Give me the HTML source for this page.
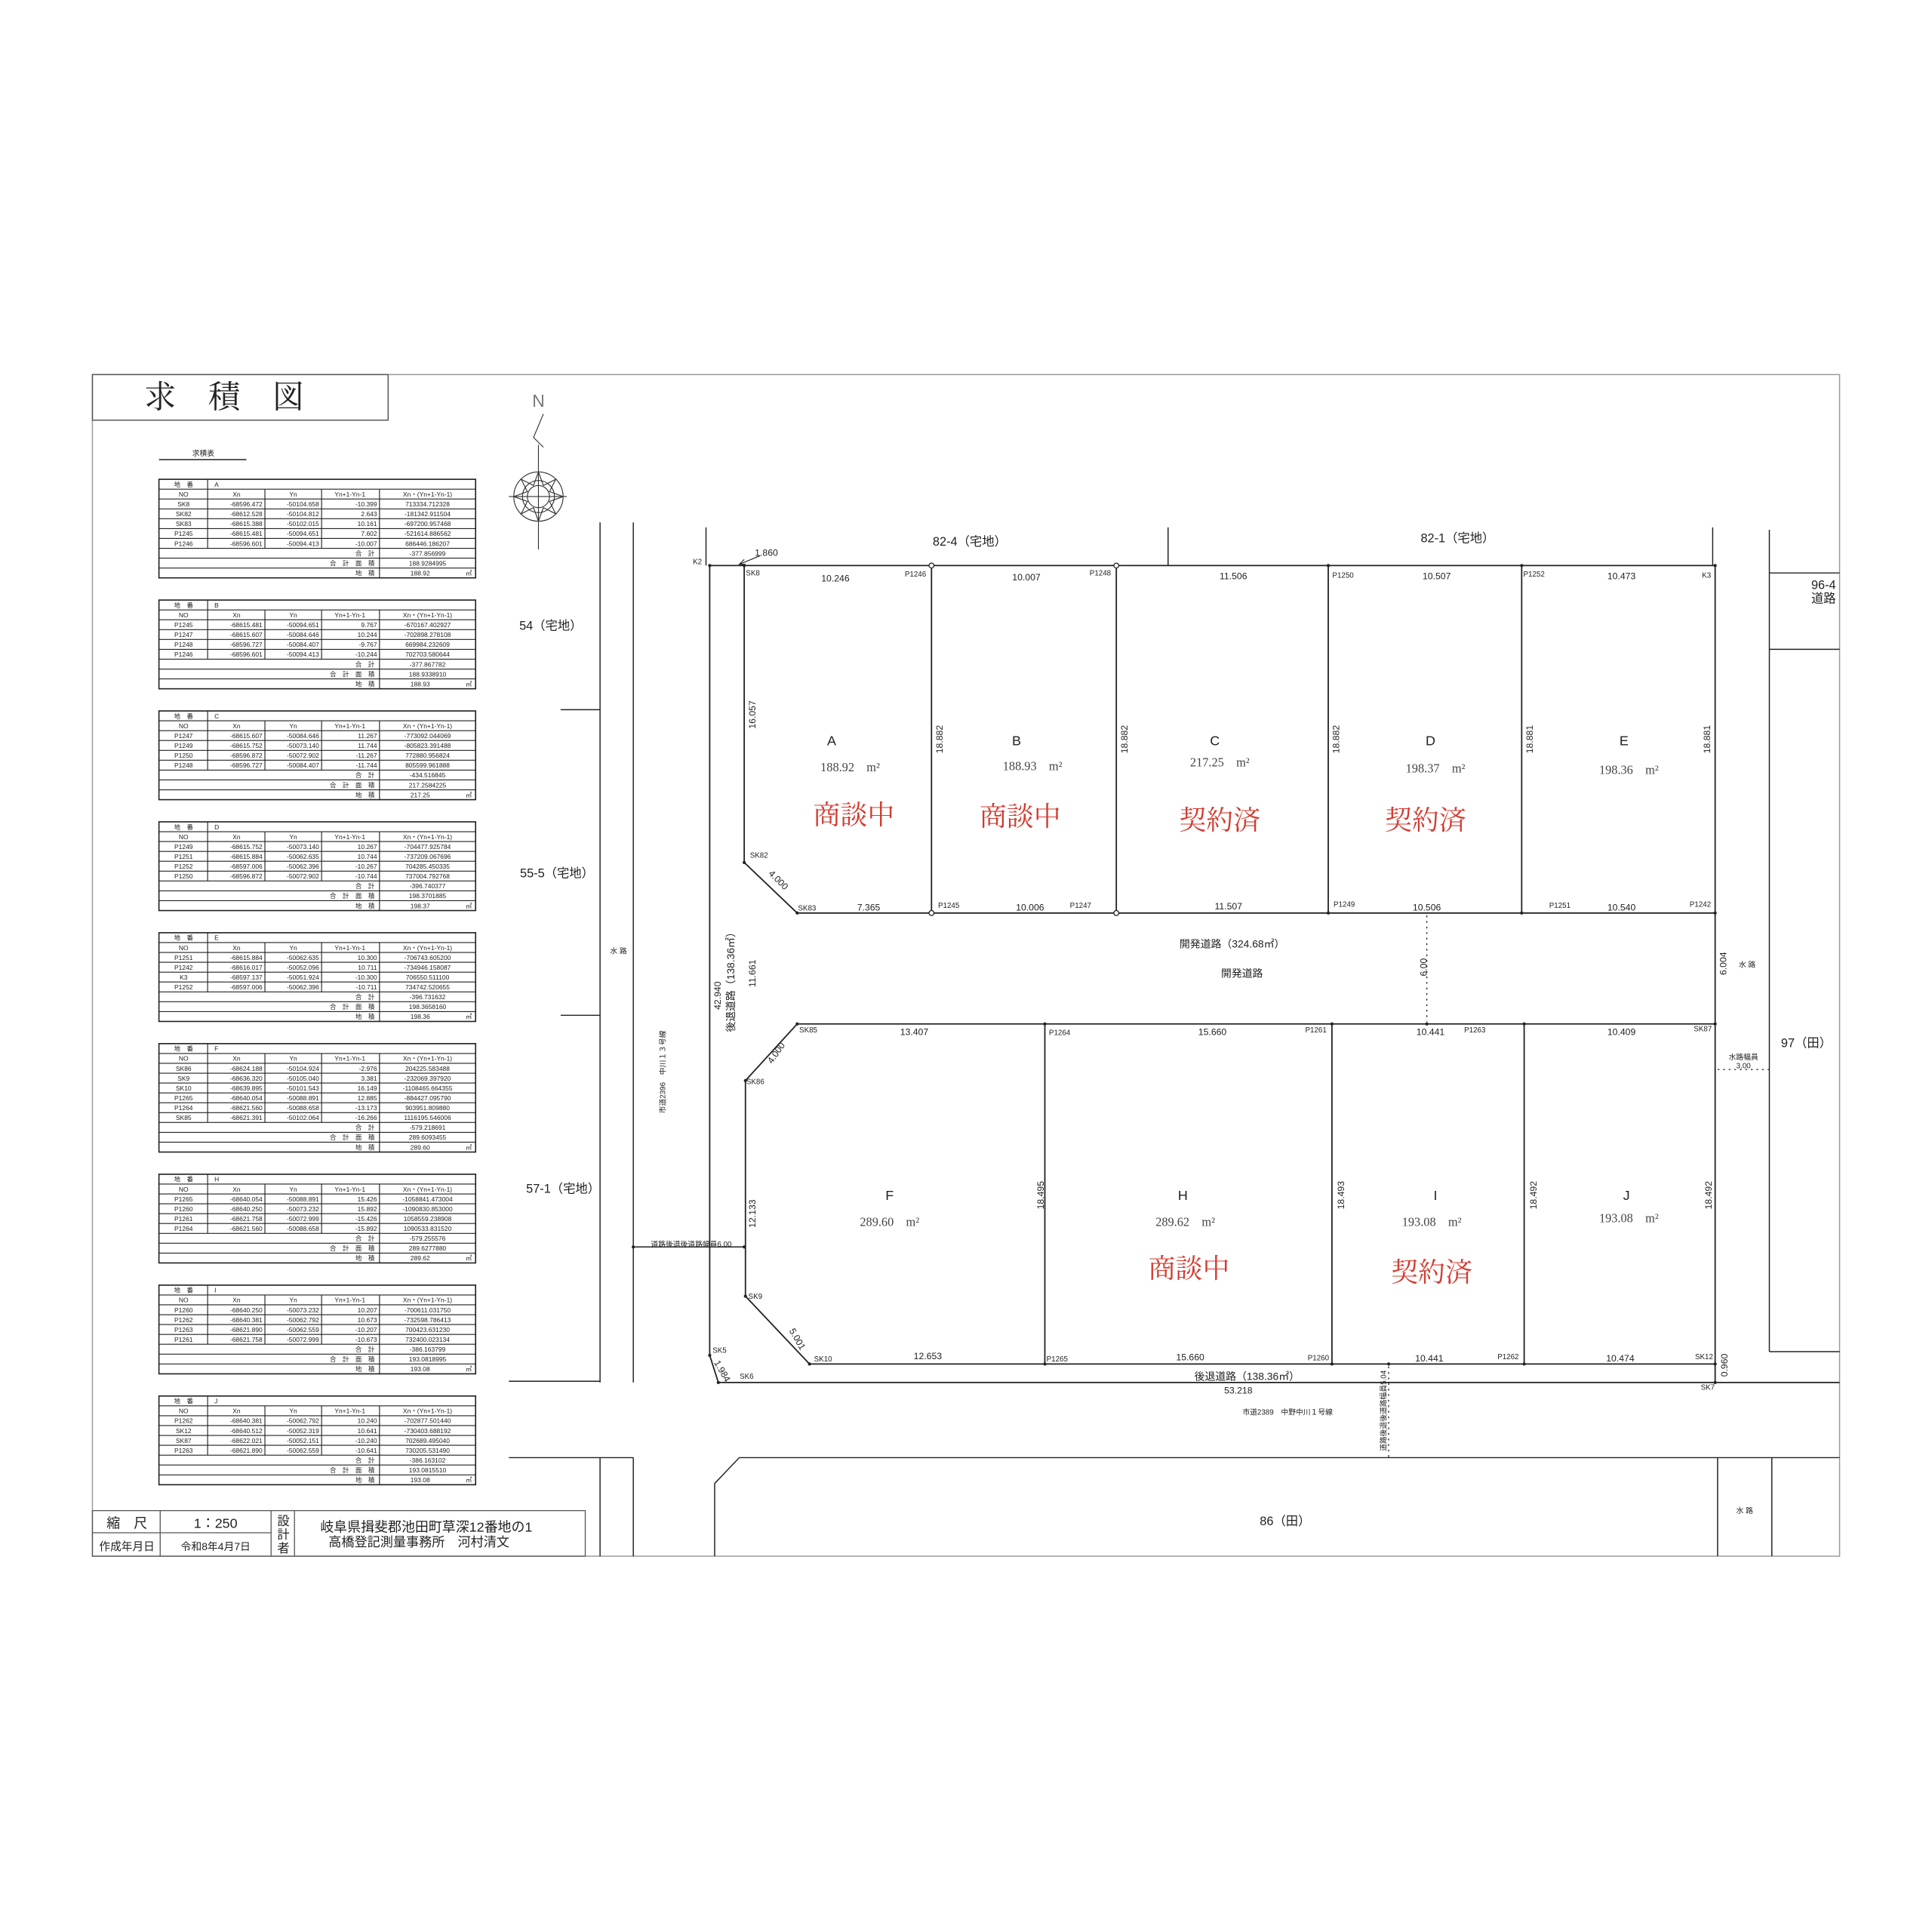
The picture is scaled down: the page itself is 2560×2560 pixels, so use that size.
<!DOCTYPE html>
<html><head><meta charset="utf-8"><style>
html,body{margin:0;padding:0;background:#fff;overflow:hidden;}
svg{display:block;}
text{font-family:"Liberation Sans","Noto Sans CJK JP",sans-serif;fill:#222;}
.s{font-family:"Liberation Serif","Noto Serif CJK SC",serif;}
.t{font-size:5.2px;}
.r{text-anchor:end;}
.c{text-anchor:middle;}
.m{font-size:7.5px;text-anchor:middle;}
.p{font-size:6px;text-anchor:middle;}
.red{fill:#d23b30;font-size:22px;text-anchor:middle;font-family:"Liberation Serif","Noto Serif CJK JP",serif;}
.L{font-size:11px;text-anchor:middle;}
.A{font-size:10px;text-anchor:middle;font-family:"Liberation Serif",serif;fill:#444;}
</style></head><body>
<svg width="2560" height="2560" viewBox="0 0 1568 1568" xmlns="http://www.w3.org/2000/svg">
<defs>
<g id="g4" stroke="#222" stroke-width="0.7" fill="none">
<rect x="0" y="0" width="257" height="72" stroke-width="1"/>
<line x1="0" y1="8" x2="257" y2="8"/><line x1="0" y1="16" x2="257" y2="16"/><line x1="0" y1="24" x2="257" y2="24"/><line x1="0" y1="32" x2="257" y2="32"/><line x1="0" y1="40" x2="257" y2="40"/><line x1="0" y1="48" x2="257" y2="48"/><line x1="0" y1="56" x2="257" y2="56"/><line x1="0" y1="64" x2="257" y2="64"/>
<line x1="39.5" y1="0" x2="39.5" y2="48"/><line x1="86" y1="8" x2="86" y2="48"/><line x1="132" y1="8" x2="132" y2="48"/><line x1="179" y1="8" x2="179" y2="72"/>
</g>
<g id="g5" stroke="#222" stroke-width="0.7" fill="none">
<rect x="0" y="0" width="257" height="80" stroke-width="1"/>
<line x1="0" y1="8" x2="257" y2="8"/><line x1="0" y1="16" x2="257" y2="16"/><line x1="0" y1="24" x2="257" y2="24"/><line x1="0" y1="32" x2="257" y2="32"/><line x1="0" y1="40" x2="257" y2="40"/><line x1="0" y1="48" x2="257" y2="48"/><line x1="0" y1="56" x2="257" y2="56"/><line x1="0" y1="64" x2="257" y2="64"/><line x1="0" y1="72" x2="257" y2="72"/>
<line x1="39.5" y1="0" x2="39.5" y2="56"/><line x1="86" y1="8" x2="86" y2="56"/><line x1="132" y1="8" x2="132" y2="56"/><line x1="179" y1="8" x2="179" y2="80"/>
</g>
<g id="g6" stroke="#222" stroke-width="0.7" fill="none">
<rect x="0" y="0" width="257" height="88" stroke-width="1"/>
<line x1="0" y1="8" x2="257" y2="8"/><line x1="0" y1="16" x2="257" y2="16"/><line x1="0" y1="24" x2="257" y2="24"/><line x1="0" y1="32" x2="257" y2="32"/><line x1="0" y1="40" x2="257" y2="40"/><line x1="0" y1="48" x2="257" y2="48"/><line x1="0" y1="56" x2="257" y2="56"/><line x1="0" y1="64" x2="257" y2="64"/><line x1="0" y1="72" x2="257" y2="72"/><line x1="0" y1="80" x2="257" y2="80"/>
<line x1="39.5" y1="0" x2="39.5" y2="64"/><line x1="86" y1="8" x2="86" y2="64"/><line x1="132" y1="8" x2="132" y2="64"/><line x1="179" y1="8" x2="179" y2="88"/>
</g>
<g id="hd" class="t">
<text x="20" y="6" class="c">地　番</text>
<text x="20" y="14" class="c">NO</text><text x="63" y="14" class="c">Xn</text><text x="109" y="14" class="c">Yn</text><text x="155" y="14" class="c">Yn+1-Yn-1</text><text x="218" y="14" class="c">Xn・(Yn+1-Yn-1)</text>
</g>
</defs>
<rect x="0" y="0" width="1568" height="1568" fill="#fff"/>
<g stroke="#222" fill="none" stroke-width="0.9">
<rect x="75" y="304" width="1418" height="959" stroke="#999"/>
<rect x="75" y="304" width="240" height="37" stroke="#555"/>
<line x1="129" y1="373" x2="200" y2="373"/>
</g>
<text x="182" y="331" style="font-size:26px" class="c s">求　積　図</text>
<text x="165" y="370" style="font-size:6px" class="c">求積表</text>

<!-- compass -->
<g stroke="#333" fill="none" stroke-width="0.7">
<line x1="437" y1="361" x2="437" y2="446"/><line x1="413" y1="403" x2="460" y2="403"/>
<polyline points="441,336 433,355 441,363"/>
<circle cx="437" cy="403" r="20"/><circle cx="437" cy="403" r="13"/><circle cx="437" cy="403" r="9"/>
<path d="M437 383 L441 394 L451 389 L446 399 L457 403 L446 407 L451 417 L441 412 L437 423 L433 412 L423 417 L428 407 L417 403 L428 399 L423 389 L433 394 Z"/>
</g>
<text x="437" y="330" style="font-size:14px;fill:#777" class="c">N</text>

<!-- tables -->
<g transform="translate(129,389)"><use href="#g5"/><use href="#hd"/><g class="t">
<text x="45" y="6">A</text>
<text x="20" y="22" class="c">SK8</text><text x="84" y="22" class="r">-68596.472</text><text x="130" y="22" class="r">-50104.658</text><text x="177" y="22" class="r">-10.399</text><text x="218" y="22" class="c">713334.712328</text>
<text x="20" y="30" class="c">SK82</text><text x="84" y="30" class="r">-68612.528</text><text x="130" y="30" class="r">-50104.812</text><text x="177" y="30" class="r">2.643</text><text x="218" y="30" class="c">-181342.911504</text>
<text x="20" y="38" class="c">SK83</text><text x="84" y="38" class="r">-68615.388</text><text x="130" y="38" class="r">-50102.015</text><text x="177" y="38" class="r">10.161</text><text x="218" y="38" class="c">-697200.957468</text>
<text x="20" y="46" class="c">P1245</text><text x="84" y="46" class="r">-68615.481</text><text x="130" y="46" class="r">-50094.651</text><text x="177" y="46" class="r">7.602</text><text x="218" y="46" class="c">-521614.886562</text>
<text x="20" y="54" class="c">P1246</text><text x="84" y="54" class="r">-68596.601</text><text x="130" y="54" class="r">-50094.413</text><text x="177" y="54" class="r">-10.007</text><text x="218" y="54" class="c">686446.186207</text>
<text x="175" y="62" class="r">合　計</text><text x="218" y="62" class="c">-377.856999</text>
<text x="175" y="70" class="r">合　計　面　積</text><text x="218" y="70" class="c">188.9284995</text>
<text x="175" y="78" class="r">地　積</text><text x="212" y="78" class="c">188.92</text><text x="254" y="78" class="r">㎡</text>
</g></g>

<g transform="translate(129,487)"><use href="#g4"/><use href="#hd"/><g class="t">
<text x="45" y="6">B</text>
<text x="20" y="22" class="c">P1245</text><text x="84" y="22" class="r">-68615.481</text><text x="130" y="22" class="r">-50094.651</text><text x="177" y="22" class="r">9.767</text><text x="218" y="22" class="c">-670167.402927</text>
<text x="20" y="30" class="c">P1247</text><text x="84" y="30" class="r">-68615.607</text><text x="130" y="30" class="r">-50084.646</text><text x="177" y="30" class="r">10.244</text><text x="218" y="30" class="c">-702898.278108</text>
<text x="20" y="38" class="c">P1248</text><text x="84" y="38" class="r">-68596.727</text><text x="130" y="38" class="r">-50084.407</text><text x="177" y="38" class="r">-9.767</text><text x="218" y="38" class="c">669984.232609</text>
<text x="20" y="46" class="c">P1246</text><text x="84" y="46" class="r">-68596.601</text><text x="130" y="46" class="r">-50094.413</text><text x="177" y="46" class="r">-10.244</text><text x="218" y="46" class="c">702703.580644</text>
<text x="175" y="54" class="r">合　計</text><text x="218" y="54" class="c">-377.867782</text>
<text x="175" y="62" class="r">合　計　面　積</text><text x="218" y="62" class="c">188.9338910</text>
<text x="175" y="70" class="r">地　積</text><text x="212" y="70" class="c">188.93</text><text x="254" y="70" class="r">㎡</text>
</g></g>

<g transform="translate(129,577)"><use href="#g4"/><use href="#hd"/><g class="t">
<text x="45" y="6">C</text>
<text x="20" y="22" class="c">P1247</text><text x="84" y="22" class="r">-68615.607</text><text x="130" y="22" class="r">-50084.646</text><text x="177" y="22" class="r">11.267</text><text x="218" y="22" class="c">-773092.044069</text>
<text x="20" y="30" class="c">P1249</text><text x="84" y="30" class="r">-68615.752</text><text x="130" y="30" class="r">-50073.140</text><text x="177" y="30" class="r">11.744</text><text x="218" y="30" class="c">-805823.391488</text>
<text x="20" y="38" class="c">P1250</text><text x="84" y="38" class="r">-68596.872</text><text x="130" y="38" class="r">-50072.902</text><text x="177" y="38" class="r">-11.267</text><text x="218" y="38" class="c">772880.956824</text>
<text x="20" y="46" class="c">P1248</text><text x="84" y="46" class="r">-68596.727</text><text x="130" y="46" class="r">-50084.407</text><text x="177" y="46" class="r">-11.744</text><text x="218" y="46" class="c">805599.961888</text>
<text x="175" y="54" class="r">合　計</text><text x="218" y="54" class="c">-434.516845</text>
<text x="175" y="62" class="r">合　計　面　積</text><text x="218" y="62" class="c">217.2584225</text>
<text x="175" y="70" class="r">地　積</text><text x="212" y="70" class="c">217.25</text><text x="254" y="70" class="r">㎡</text>
</g></g>

<g transform="translate(129,667)"><use href="#g4"/><use href="#hd"/><g class="t">
<text x="45" y="6">D</text>
<text x="20" y="22" class="c">P1249</text><text x="84" y="22" class="r">-68615.752</text><text x="130" y="22" class="r">-50073.140</text><text x="177" y="22" class="r">10.267</text><text x="218" y="22" class="c">-704477.925784</text>
<text x="20" y="30" class="c">P1251</text><text x="84" y="30" class="r">-68615.884</text><text x="130" y="30" class="r">-50062.635</text><text x="177" y="30" class="r">10.744</text><text x="218" y="30" class="c">-737209.067696</text>
<text x="20" y="38" class="c">P1252</text><text x="84" y="38" class="r">-68597.006</text><text x="130" y="38" class="r">-50062.396</text><text x="177" y="38" class="r">-10.267</text><text x="218" y="38" class="c">704285.450335</text>
<text x="20" y="46" class="c">P1250</text><text x="84" y="46" class="r">-68596.872</text><text x="130" y="46" class="r">-50072.902</text><text x="177" y="46" class="r">-10.744</text><text x="218" y="46" class="c">737004.792768</text>
<text x="175" y="54" class="r">合　計</text><text x="218" y="54" class="c">-396.740377</text>
<text x="175" y="62" class="r">合　計　面　積</text><text x="218" y="62" class="c">198.3701885</text>
<text x="175" y="70" class="r">地　積</text><text x="212" y="70" class="c">198.37</text><text x="254" y="70" class="r">㎡</text>
</g></g>

<g transform="translate(129,757)"><use href="#g4"/><use href="#hd"/><g class="t">
<text x="45" y="6">E</text>
<text x="20" y="22" class="c">P1251</text><text x="84" y="22" class="r">-68615.884</text><text x="130" y="22" class="r">-50062.635</text><text x="177" y="22" class="r">10.300</text><text x="218" y="22" class="c">-706743.605200</text>
<text x="20" y="30" class="c">P1242</text><text x="84" y="30" class="r">-68616.017</text><text x="130" y="30" class="r">-50052.096</text><text x="177" y="30" class="r">10.711</text><text x="218" y="30" class="c">-734946.158087</text>
<text x="20" y="38" class="c">K3</text><text x="84" y="38" class="r">-68597.137</text><text x="130" y="38" class="r">-50051.924</text><text x="177" y="38" class="r">-10.300</text><text x="218" y="38" class="c">706550.511100</text>
<text x="20" y="46" class="c">P1252</text><text x="84" y="46" class="r">-68597.006</text><text x="130" y="46" class="r">-50062.396</text><text x="177" y="46" class="r">-10.711</text><text x="218" y="46" class="c">734742.520655</text>
<text x="175" y="54" class="r">合　計</text><text x="218" y="54" class="c">-396.731632</text>
<text x="175" y="62" class="r">合　計　面　積</text><text x="218" y="62" class="c">198.3658160</text>
<text x="175" y="70" class="r">地　積</text><text x="212" y="70" class="c">198.36</text><text x="254" y="70" class="r">㎡</text>
</g></g>

<g transform="translate(129,847)"><use href="#g6"/><use href="#hd"/><g class="t">
<text x="45" y="6">F</text>
<text x="20" y="22" class="c">SK86</text><text x="84" y="22" class="r">-68624.188</text><text x="130" y="22" class="r">-50104.924</text><text x="177" y="22" class="r">-2.976</text><text x="218" y="22" class="c">204225.583488</text>
<text x="20" y="30" class="c">SK9</text><text x="84" y="30" class="r">-68636.320</text><text x="130" y="30" class="r">-50105.040</text><text x="177" y="30" class="r">3.381</text><text x="218" y="30" class="c">-232069.397920</text>
<text x="20" y="38" class="c">SK10</text><text x="84" y="38" class="r">-68639.895</text><text x="130" y="38" class="r">-50101.543</text><text x="177" y="38" class="r">16.149</text><text x="218" y="38" class="c">-1108465.664355</text>
<text x="20" y="46" class="c">P1265</text><text x="84" y="46" class="r">-68640.054</text><text x="130" y="46" class="r">-50088.891</text><text x="177" y="46" class="r">12.885</text><text x="218" y="46" class="c">-884427.095790</text>
<text x="20" y="54" class="c">P1264</text><text x="84" y="54" class="r">-68621.560</text><text x="130" y="54" class="r">-50088.658</text><text x="177" y="54" class="r">-13.173</text><text x="218" y="54" class="c">903951.809880</text>
<text x="20" y="62" class="c">SK85</text><text x="84" y="62" class="r">-68621.391</text><text x="130" y="62" class="r">-50102.064</text><text x="177" y="62" class="r">-16.266</text><text x="218" y="62" class="c">1116195.546006</text>
<text x="175" y="70" class="r">合　計</text><text x="218" y="70" class="c">-579.218691</text>
<text x="175" y="78" class="r">合　計　面　積</text><text x="218" y="78" class="c">289.6093455</text>
<text x="175" y="86" class="r">地　積</text><text x="212" y="86" class="c">289.60</text><text x="254" y="86" class="r">㎡</text>
</g></g>

<g transform="translate(129,953)"><use href="#g4"/><use href="#hd"/><g class="t">
<text x="45" y="6">H</text>
<text x="20" y="22" class="c">P1265</text><text x="84" y="22" class="r">-68640.054</text><text x="130" y="22" class="r">-50088.891</text><text x="177" y="22" class="r">15.426</text><text x="218" y="22" class="c">-1058841.473004</text>
<text x="20" y="30" class="c">P1260</text><text x="84" y="30" class="r">-68640.250</text><text x="130" y="30" class="r">-50073.232</text><text x="177" y="30" class="r">15.892</text><text x="218" y="30" class="c">-1090830.853000</text>
<text x="20" y="38" class="c">P1261</text><text x="84" y="38" class="r">-68621.758</text><text x="130" y="38" class="r">-50072.999</text><text x="177" y="38" class="r">-15.426</text><text x="218" y="38" class="c">1058559.238908</text>
<text x="20" y="46" class="c">P1264</text><text x="84" y="46" class="r">-68621.560</text><text x="130" y="46" class="r">-50088.658</text><text x="177" y="46" class="r">-15.892</text><text x="218" y="46" class="c">1090533.831520</text>
<text x="175" y="54" class="r">合　計</text><text x="218" y="54" class="c">-579.255576</text>
<text x="175" y="62" class="r">合　計　面　積</text><text x="218" y="62" class="c">289.6277880</text>
<text x="175" y="70" class="r">地　積</text><text x="212" y="70" class="c">289.62</text><text x="254" y="70" class="r">㎡</text>
</g></g>

<g transform="translate(129,1043)"><use href="#g4"/><use href="#hd"/><g class="t">
<text x="45" y="6">I</text>
<text x="20" y="22" class="c">P1260</text><text x="84" y="22" class="r">-68640.250</text><text x="130" y="22" class="r">-50073.232</text><text x="177" y="22" class="r">10.207</text><text x="218" y="22" class="c">-700611.031750</text>
<text x="20" y="30" class="c">P1262</text><text x="84" y="30" class="r">-68640.381</text><text x="130" y="30" class="r">-50062.792</text><text x="177" y="30" class="r">10.673</text><text x="218" y="30" class="c">-732598.786413</text>
<text x="20" y="38" class="c">P1263</text><text x="84" y="38" class="r">-68621.890</text><text x="130" y="38" class="r">-50062.559</text><text x="177" y="38" class="r">-10.207</text><text x="218" y="38" class="c">700423.631230</text>
<text x="20" y="46" class="c">P1261</text><text x="84" y="46" class="r">-68621.758</text><text x="130" y="46" class="r">-50072.999</text><text x="177" y="46" class="r">-10.673</text><text x="218" y="46" class="c">732400.023134</text>
<text x="175" y="54" class="r">合　計</text><text x="218" y="54" class="c">-386.163799</text>
<text x="175" y="62" class="r">合　計　面　積</text><text x="218" y="62" class="c">193.0818995</text>
<text x="175" y="70" class="r">地　積</text><text x="212" y="70" class="c">193.08</text><text x="254" y="70" class="r">㎡</text>
</g></g>

<g transform="translate(129,1133)"><use href="#g4"/><use href="#hd"/><g class="t">
<text x="45" y="6">J</text>
<text x="20" y="22" class="c">P1262</text><text x="84" y="22" class="r">-68640.381</text><text x="130" y="22" class="r">-50062.792</text><text x="177" y="22" class="r">10.240</text><text x="218" y="22" class="c">-702877.501440</text>
<text x="20" y="30" class="c">SK12</text><text x="84" y="30" class="r">-68640.512</text><text x="130" y="30" class="r">-50052.319</text><text x="177" y="30" class="r">10.641</text><text x="218" y="30" class="c">-730403.688192</text>
<text x="20" y="38" class="c">SK87</text><text x="84" y="38" class="r">-68622.021</text><text x="130" y="38" class="r">-50052.151</text><text x="177" y="38" class="r">-10.240</text><text x="218" y="38" class="c">702689.495040</text>
<text x="20" y="46" class="c">P1263</text><text x="84" y="46" class="r">-68621.890</text><text x="130" y="46" class="r">-50062.559</text><text x="177" y="46" class="r">-10.641</text><text x="218" y="46" class="c">730205.531490</text>
<text x="175" y="54" class="r">合　計</text><text x="218" y="54" class="c">-386.163102</text>
<text x="175" y="62" class="r">合　計　面　積</text><text x="218" y="62" class="c">193.0815510</text>
<text x="175" y="70" class="r">地　積</text><text x="212" y="70" class="c">193.08</text><text x="254" y="70" class="r">㎡</text>
</g></g>

<!-- title block -->
<g stroke="#555" fill="none" stroke-width="0.8">
<rect x="75" y="1226" width="400" height="37"/>
<line x1="75" y1="1244" x2="220" y2="1244"/>
<line x1="130" y1="1226" x2="130" y2="1263"/><line x1="220" y1="1226" x2="220" y2="1263"/><line x1="239" y1="1226" x2="239" y2="1263"/>
</g>
<text x="103" y="1240" style="font-size:11px" class="c">縮　尺</text>
<text x="175" y="1240" style="font-size:11px" class="c">1：250</text>
<text x="103" y="1258" style="font-size:9px" class="c">作成年月日</text>
<text x="175" y="1258" style="font-size:8.5px" class="c">令和8年4月7日</text>
<text x="230" y="1238" style="font-size:10px" class="c">設</text><text x="230" y="1249" style="font-size:10px" class="c">計</text><text x="230" y="1260" style="font-size:10px" class="c">者</text>
<text x="346" y="1243" style="font-size:11px" class="c">岐阜県揖斐郡池田町草深12番地の1</text>
<text x="340" y="1255" style="font-size:10.5px" class="c">高橋登記測量事務所　河村清文</text>

<!-- surroundings -->
<g stroke="#222" fill="none" stroke-width="0.9">
<line x1="487" y1="424" x2="487" y2="1122"/><line x1="514" y1="424" x2="514" y2="1122"/>
<line x1="455" y1="576" x2="487" y2="576"/><line x1="455" y1="824" x2="487" y2="824"/>
<line x1="413" y1="1121" x2="487" y2="1121"/>
<line x1="413" y1="1183" x2="514" y2="1183"/>
<line x1="487" y1="1183" x2="487" y2="1263"/><line x1="514" y1="1183" x2="514" y2="1263"/>
<line x1="573" y1="428" x2="573" y2="459"/><line x1="948" y1="428" x2="948" y2="459"/><line x1="1390" y1="428" x2="1390" y2="459"/>
<line x1="1436" y1="430" x2="1436" y2="1097"/><line x1="1436" y1="465" x2="1493" y2="465"/><line x1="1436" y1="527" x2="1493" y2="527"/>
<line x1="1436" y1="1097" x2="1493" y2="1097"/>
<polyline points="580,1263 580,1204 600,1183 1493,1183"/>
<line x1="1394" y1="1183" x2="1394" y2="1263"/><line x1="1438" y1="1183" x2="1438" y2="1263"/>
<line x1="514" y1="1012" x2="604" y2="1012"/>
</g>
<g stroke="#222" fill="none" stroke-width="1.1">
<line x1="576" y1="459" x2="1392" y2="459"/>
<line x1="576" y1="459" x2="576" y2="1100"/>
<polyline points="604,459 604,700 647,741 1392,741"/>
<polyline points="1392,831 647,831 605,877 605,1052 657,1107 1392,1107"/>
<line x1="1392" y1="459" x2="1392" y2="1122"/>
<polyline points="576,1100 583,1122 1493,1122"/>
<line x1="756" y1="459" x2="756" y2="741"/><line x1="906" y1="459" x2="906" y2="741"/><line x1="1078" y1="459" x2="1078" y2="741"/><line x1="1235" y1="459" x2="1235" y2="741"/>
<line x1="848" y1="831" x2="848" y2="1107"/><line x1="1081" y1="831" x2="1081" y2="1107"/><line x1="1237" y1="831" x2="1237" y2="1107"/>
</g>
<g stroke="#222" fill="none" stroke-width="0.8" stroke-dasharray="1.5,3">
<line x1="1158" y1="743" x2="1158" y2="829"/>
<line x1="1127" y1="1109" x2="1127" y2="1183"/>
<line x1="1394" y1="868" x2="1436" y2="868"/>
</g>
<g fill="#fff" stroke="#222" stroke-width="0.8">
<circle cx="756" cy="459" r="2"/><circle cx="906" cy="459" r="2"/><circle cx="756" cy="741" r="2"/><circle cx="906" cy="741" r="2"/>
</g>
<g fill="#222">
<circle cx="576" cy="459" r="1.3"/><circle cx="604" cy="459" r="1.3"/><circle cx="1078" cy="459" r="1.3"/><circle cx="1235" cy="459" r="1.3"/><circle cx="1392" cy="459" r="1.3"/>
<circle cx="604" cy="700" r="1.3"/><circle cx="647" cy="741" r="1.3"/><circle cx="1078" cy="741" r="1.3"/><circle cx="1235" cy="741" r="1.3"/><circle cx="1392" cy="741" r="1.3"/>
<circle cx="647" cy="831" r="1.3"/><circle cx="848" cy="831" r="1.3"/><circle cx="1081" cy="831" r="1.3"/><circle cx="1158" cy="831" r="1.3"/><circle cx="1237" cy="831" r="1.3"/><circle cx="1392" cy="831" r="1.3"/>
<circle cx="605" cy="877" r="1.3"/><circle cx="605" cy="1052" r="1.3"/><circle cx="657" cy="1107" r="1.3"/><circle cx="848" cy="1107" r="1.3"/><circle cx="1081" cy="1107" r="1.3"/><circle cx="1127" cy="1107" r="1.3"/><circle cx="1237" cy="1107" r="1.3"/><circle cx="1392" cy="1107" r="1.3"/>
<circle cx="576" cy="1100" r="1.3"/><circle cx="583" cy="1122" r="1.3"/><circle cx="1392" cy="1122" r="1.3"/><circle cx="604" cy="1012" r="1.3"/><circle cx="514" cy="1012" r="1.3"/>
</g>
<line x1="617" y1="451" x2="600" y2="458" stroke="#222" stroke-width="0.7"/>
<polyline points="604,454 600,458 605,458" stroke="#222" fill="none" stroke-width="0.7"/>

<text x="447" y="511" style="font-size:10px" class="c">54（宅地）</text>
<text x="452" y="712" style="font-size:10px" class="c">55-5（宅地）</text>
<text x="457" y="968" style="font-size:10px" class="c">57-1（宅地）</text>
<text x="502" y="774" class="p">水 路</text>
<text transform="translate(540,870) rotate(-90)" class="p">市道2396　中川１３号線</text>
<text x="787" y="443" style="font-size:10px" class="c">82-4（宅地）</text>
<text x="1183" y="440" style="font-size:10px" class="c">82-1（宅地）</text>
<text x="1480" y="478" style="font-size:10px" class="c">96-4</text>
<text x="1480" y="489" style="font-size:10px" class="c">道路</text>
<text x="1466" y="850" style="font-size:10px" class="c">97（田）</text>
<text x="1416" y="1228" class="p">水 路</text>
<text x="1043" y="1238" style="font-size:10px" class="c">86（田）</text>
<text x="1418" y="785" class="p">水 路</text>
<text x="1415" y="860" class="p">水路幅員</text>
<text x="1415" y="867" class="p">3.00</text>
<text x="561" y="1012" class="p">道路後退後道路幅員6.00</text>
<text transform="translate(1125,1145) rotate(-90)" class="p">道路後退後道路幅員5.04</text>
<text x="1045" y="1148" class="p">市道2389　中野中川１号線</text>

<text x="566" y="458" class="p">K2</text>
<text x="622" y="451" class="m">1.860</text>
<text x="611" y="467" class="p">SK8</text>
<text x="678" y="472" class="m">10.246</text><text x="743" y="468" class="p">P1246</text>
<text x="833" y="471" class="m">10.007</text><text x="893" y="467" class="p">P1248</text>
<text x="1001" y="470" class="m">11.506</text><text x="1090" y="469" class="p">P1250</text>
<text x="1166" y="470" class="m">10.507</text><text x="1245" y="468" class="p">P1252</text>
<text x="1316" y="470" class="m">10.473</text><text x="1385" y="469" class="p">K3</text>
<text transform="translate(613,580) rotate(-90)" class="m">16.057</text>
<text transform="translate(765,600) rotate(-90)" class="m">18.882</text>
<text transform="translate(915,600) rotate(-90)" class="m">18.882</text>
<text transform="translate(1087,600) rotate(-90)" class="m">18.882</text>
<text transform="translate(1244,600) rotate(-90)" class="m">18.881</text>
<text transform="translate(1388,600) rotate(-90)" class="m">18.881</text>
<text x="675" y="605" class="L">A</text><text x="825" y="605" class="L">B</text><text x="986" y="605" class="L">C</text><text x="1161" y="605" class="L">D</text><text x="1318" y="605" class="L">E</text>
<text x="690" y="626" class="A">188.92　m²</text>
<text x="838" y="625" class="A">188.93　m²</text>
<text x="990" y="622" class="A">217.25　m²</text>
<text x="1165" y="627" class="A">198.37　m²</text>
<text x="1322" y="628" class="A">198.36　m²</text>
<text x="693" y="669" class="red">商談中</text>
<text x="828" y="670" class="red">商談中</text>
<text x="990" y="673" class="red">契約済</text>
<text x="1157" y="673" class="red">契約済</text>
<text x="616" y="696" class="p">SK82</text>
<text transform="translate(630,716) rotate(45)" class="m">4.000</text>
<text x="655" y="739" class="p">SK83</text>
<text x="705" y="739" class="m">7.365</text><text x="770" y="737" class="p">P1245</text>
<text x="836" y="739" class="m">10.006</text><text x="877" y="737" class="p">P1247</text>
<text x="997" y="738" class="m">11.507</text><text x="1091" y="736" class="p">P1249</text>
<text x="1158" y="739" class="m">10.506</text><text x="1266" y="737" class="p">P1251</text>
<text x="1316" y="739" class="m">10.540</text><text x="1380" y="736" class="p">P1242</text>
<text x="1000" y="769" style="font-size:8.5px" class="c">開発道路（324.68㎡）</text>
<text x="1008" y="793" style="font-size:8.5px" class="c">開発道路</text>
<text transform="translate(1158,785) rotate(-90)" class="m">6.00</text>
<text transform="translate(1401,782) rotate(-90)" class="m">6.004</text>
<text transform="translate(585,808) rotate(-90)" class="m">42.940</text>
<text transform="translate(596,795) rotate(-90)" style="font-size:8.5px" class="c">後退道路（138.36㎡）</text>
<text transform="translate(613,790) rotate(-90)" class="m">11.661</text>

<text x="656" y="838" class="p">SK85</text>
<text x="742" y="840" class="m">13.407</text><text x="860" y="840" class="p">P1264</text>
<text x="984" y="840" class="m">15.660</text><text x="1068" y="838" class="p">P1261</text>
<text x="1161" y="840" class="m">10.441</text><text x="1197" y="838" class="p">P1263</text>
<text x="1316" y="840" class="m">10.409</text><text x="1382" y="837" class="p">SK87</text>
<text transform="translate(632,856) rotate(-55)" class="m">4.000</text>
<text x="613" y="880" class="p">SK86</text>
<text x="722" y="974" class="L">F</text><text x="960" y="974" class="L">H</text><text x="1165" y="974" class="L">I</text><text x="1320" y="974" class="L">J</text>
<text x="722" y="995" class="A">289.60　m²</text>
<text x="962" y="995" class="A">289.62　m²</text>
<text x="1162" y="995" class="A">193.08　m²</text>
<text x="1322" y="992" class="A">193.08　m²</text>
<text x="965" y="1037" class="red">商談中</text>
<text x="1162" y="1040" class="red">契約済</text>
<text transform="translate(613,985) rotate(-90)" class="m">12.133</text>
<text transform="translate(847,970) rotate(-90)" class="m">18.495</text>
<text transform="translate(1091,970) rotate(-90)" class="m">18.493</text>
<text transform="translate(1247,970) rotate(-90)" class="m">18.492</text>
<text transform="translate(1389,970) rotate(-90)" class="m">18.492</text>
<text x="613" y="1054" class="p">SK9</text>
<text transform="translate(645,1088) rotate(60)" class="m">5.001</text>
<text x="668" y="1105" class="p">SK10</text>
<text x="753" y="1103" class="m">12.653</text><text x="858" y="1105" class="p">P1265</text>
<text x="966" y="1104" class="m">15.660</text><text x="1070" y="1104" class="p">P1260</text>
<text x="1160" y="1105" class="m">10.441</text><text x="1224" y="1103" class="p">P1262</text>
<text x="1315" y="1105" class="m">10.474</text><text x="1383" y="1103" class="p">SK12</text>
<text transform="translate(1402,1108) rotate(-90)" class="m">0.960</text>
<text x="584" y="1098" class="p">SK5</text>
<text transform="translate(584,1114) rotate(60)" class="m">1.984</text>
<text x="606" y="1119" class="p">SK6</text>
<text x="1012" y="1120" style="font-size:8.5px" class="c">後退道路（138.36㎡）</text>
<text x="1005" y="1131" class="m">53.218</text>
<text x="1386" y="1128" class="p">SK7</text>
</svg>
</body></html>
